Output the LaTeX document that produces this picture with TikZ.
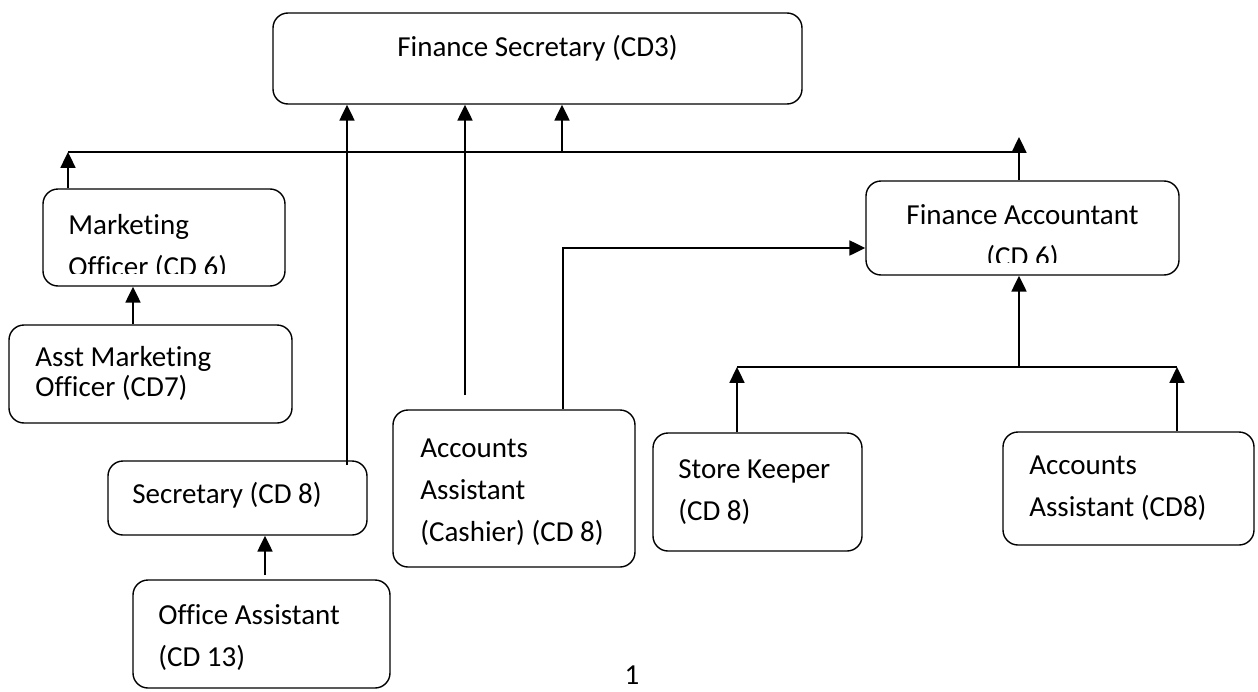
\documentclass[tikz,border=0pt]{standalone}
\usepackage{fontspec}
\setmainfont{Carlito}[Ligatures=NoCommon]
\usetikzlibrary{arrows.meta}

\begin{document}
\begin{tikzpicture}[x=1cm,y=-1cm,
        box/.style={draw,rounded corners=0.3cm,line width=0.8pt,inner sep=0pt},
        txt/.style={inner sep=0pt,align=left,font=\fontsize{16.5}{23.8}\selectfont},
        up/.style={-{Triangle[length=9pt,width=8.5pt]},line width=1.1pt},
        bus/.style={line width=0.8pt}]
    \useasboundingbox (0,0) rectangle (25.16,13.82);

    % boxes
    \node[box,minimum width=10.58cm,minimum height=1.82cm] (fs) at (10.75,1.17) {};
    \node[box,minimum width=4.84cm,minimum height=1.94cm] (mo) at (3.28,4.75) {};
    \node[box,minimum width=5.66cm,minimum height=1.96cm] (amo) at (3.01,7.48) {};
    \node[box,minimum width=5.18cm,minimum height=1.48cm] (sec) at (4.75,9.96) {};
    \node[box,minimum width=5.14cm,minimum height=2.16cm] (oa) at (5.23,12.68) {};
    \node[box,minimum width=4.84cm,minimum height=3.14cm] (cash) at (10.28,9.77) {};
    \node[box,minimum width=6.26cm,minimum height=1.88cm] (fa) at (20.45,4.56) {};
    \node[box,minimum width=4.18cm,minimum height=2.36cm] (sk) at (15.15,9.84) {};
    \node[box,minimum width=5.02cm,minimum height=2.26cm] (aa) at (22.57,9.77) {};

    % texts (base = last line)
    \node[txt,anchor=base] (fs-t) at (10.75,1.12) {Finance Secretary (CD3)};
    \begin{scope}
        \clip (0.86,3.78) rectangle (5.70,5.46);
        \node[txt,anchor=base west] (mo-t) at (1.36,5.52) {Marketing\\Officer (CD 6)};
    \end{scope}
    \node[txt,anchor=base west,font=\fontsize{16.5}{17}\selectfont] (amo-t) at (0.70,7.92) {Asst Marketing\\Officer (CD7)};
    \node[txt,anchor=base west] (sec-t) at (2.64,10.06) {Secretary (CD 8)};
    \node[txt,anchor=base west] (oa-t) at (3.16,13.32) {Office Assistant\\(CD 13)};
    \node[txt,anchor=base west] (cash-t) at (8.40,10.82) {Accounts\\Assistant\\(Cashier) (CD 8)};
    \begin{scope}
        \clip (17.32,3.62) rectangle (23.58,5.24);
        \node[txt,anchor=base,align=center] (fa-t) at (20.45,5.32) {Finance Accountant\\(CD 6)};
    \end{scope}
    \node[txt,anchor=base west] (sk-t) at (13.56,10.40) {Store Keeper\\(CD 8)};
    \node[txt,anchor=base west] (aa-t) at (20.58,10.32) {Accounts\\Assistant (CD8)};
    \node[txt,anchor=base] (page) at (12.64,13.68) {1};

    % connectors
    \coordinate (busL) at (1.36,3.04);
    \coordinate (busR) at (20.38,3.04);
    \coordinate (busM) at (11.24,3.06);
    \coordinate (faTop) at (20.38,2.74);
    \coordinate (secTop) at (6.94,9.30);
    \coordinate (cashTop) at (9.30,7.90);
    \coordinate (cashTurn) at (11.26,4.96);
    \coordinate (oaTop) at (5.30,11.50);
    \coordinate (lbusL) at (14.74,7.34);
    \coordinate (lbusR) at (23.54,7.34);

    \draw[bus] (busL) -- (busR);
    \draw[up] (busL |- mo.north) -- (busL);
    \draw[up] (faTop |- fa.north) -- (faTop);
    \draw[up] (busM) -- (busM |- fs.south);
    \draw[up] (secTop) -- (secTop |- fs.south);
    \draw[up] (cashTop) -- (cashTop |- fs.south);
    \draw[up] (cashTurn |- cash.north) -- (cashTurn) -- (cashTurn -| fa.west);
    \draw[up] ([xshift=-0.35cm]amo.north) -- ([xshift=-0.35cm]amo.north |- mo.south);
    \draw[up] (oaTop) -- (oaTop |- sec.south);

    \draw[bus] (lbusL) -- (lbusR);
    \draw[up] (lbusL -| busR) -- (busR |- fa.south);
    \draw[up] (lbusL |- sk.north) -- (lbusL);
    \draw[up] (lbusR |- aa.north) -- (lbusR);
\end{tikzpicture}
\end{document}
